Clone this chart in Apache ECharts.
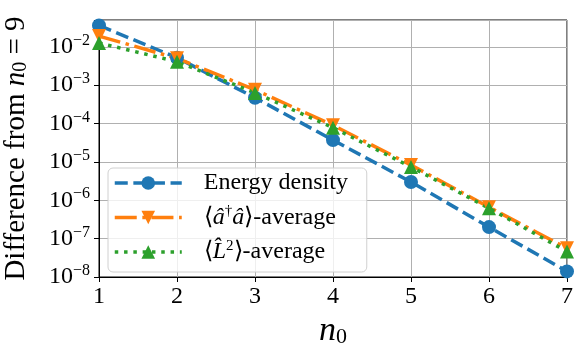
<!DOCTYPE html>
<html>
<head>
<meta charset="utf-8">
<script src="https://cdn.jsdelivr.net/npm/echarts@6/dist/echarts.min.js"></script>
<style>
  html, body { margin: 0; padding: 0; background: #fff; }
  #chart-box { width: 582px; height: 354px; }
</style>
</head>
<body>
<div id="chart-box"></div>
<script>
// values
const n0Values = [1, 2, 3, 4, 5, 6, 7]
const energyDensity = [0.036, 0.0052, 4.7e-4, 3.7e-5, 3.0e-6, 2.0e-7, 1.4e-8]
const adagAverage = [0.019, 0.005, 7.6e-4, 9.0e-5, 8.3e-6, 6.6e-7, 5.6e-8]
const l2Average = [0.0126, 0.0041, 6.3e-4, 7.8e-5, 7.4e-6, 6.2e-7, 4.6e-8]
const seriesNames = ['Energy density', 'adag', 'L2']

const font = 'Liberation Serif'
const pairs = (ys) => n0Values.map((x, i) => [x, ys[i]])

const legendText = {
  'Energy density': 'Energy density',
  'adag': '⟨{i|â}{sup|†}{i|â}⟩-average',
  'L2': '⟨{i|L̂}{sup|2}⟩-average'
}

const lineSeries = (name, ys, color, dash, symbol, rotate) => ({
  name: name,
  type: 'line',
  data: pairs(ys),
  symbol: symbol,
  symbolSize: 14,
  symbolRotate: rotate,
  lineStyle: { color: color, width: 3.5, type: dash, cap: 'butt' },
  itemStyle: { color: color },
  clip: true
})

const options = {
  animation: false,
  grid: {
    left: 99, right: 15, top: 20, bottom: 77,
    outerBoundsMode: 'none',
    containLabel: false,
    show: true, borderColor: '#000', borderWidth: 1
  },
  legend: {
    orient: 'vertical',
    left: 108,
    top: 168,
    data: seriesNames,
    itemWidth: 67,
    itemHeight: 17,
    itemGap: 9,
    padding: [3, 7, 8, 5],
    backgroundColor: 'rgba(255,255,255,0.8)',
    borderColor: '#d0d0d0',
    borderWidth: 1,
    borderRadius: 5,
    lineStyle: { width: 3.5 },
    formatter: (name) => legendText[name],
    textStyle: {
      fontFamily: font,
      fontSize: 24,
      lineHeight: 24,
      width: 156,
      color: '#000',
      padding: [0, 0, 0, 17],
      rich: {
        i: { fontFamily: font, fontSize: 24, fontStyle: 'italic', color: '#000' },
        sup: { fontFamily: font, fontSize: 15, color: '#000', padding: [0, 0, 12, 0] }
      }
    }
  },
  xAxis: {
    type: 'value',
    min: 1,
    max: 7,
    interval: 1,
    name: '{i|n}{sub|0}',
    nameLocation: 'middle',
    nameGap: 26,
    nameTextStyle: {
      rich: {
        i: { fontFamily: font, fontSize: 34, fontStyle: 'italic', color: '#000' },
        sub: { fontFamily: font, fontSize: 22, color: '#000', padding: [12, 0, 0, 0] }
      }
    },
    axisLine: { lineStyle: { color: '#000', width: 1 } },
    axisTick: { show: true, length: 5, lineStyle: { color: '#000' } },
    axisLabel: { fontFamily: font, fontSize: 24, color: '#000', margin: 8 },
    splitLine: { show: true, lineStyle: { color: '#b0b0b0', width: 1 } }
  },
  yAxis: {
    type: 'log',
    logBase: 10,
    min: 1e-8,
    max: 0.05,
    name: 'Difference from {i|n}{sub|0} = 9',
    nameLocation: 'middle',
    nameRotate: 90,
    nameGap: 68,
    nameTextStyle: {
      fontFamily: font,
      fontSize: 29,
      color: '#000',
      rich: {
        i: { fontFamily: font, fontSize: 29, fontStyle: 'italic', color: '#000' },
        sub: { fontFamily: font, fontSize: 20, color: '#000', padding: [10, 0, 0, 0] }
      }
    },
    axisLine: { show: true, lineStyle: { color: '#000', width: 1 } },
    axisTick: { show: true, length: 5, lineStyle: { color: '#000' } },
    axisLabel: {
      margin: 9,
      formatter: (v) => {
        const e = Math.round(Math.log10(v))
        if (Math.abs(Math.log10(v) - e) > 1e-6) return ''
        return '{b|10}{s|−' + Math.abs(e) + '}'
      },
      rich: {
        b: { fontFamily: font, fontSize: 24, color: '#000' },
        s: { fontFamily: font, fontSize: 16, color: '#000', padding: [0, 0, 12, 0] }
      }
    },
    splitLine: { show: true, lineStyle: { color: '#b0b0b0', width: 1 } }
  },
  series: [
    lineSeries(seriesNames[0], energyDensity, '#1f77b4', [13, 5.6], 'circle', 0),
    lineSeries(seriesNames[1], adagAverage, '#ff7f0e', [22, 5.6, 3.5, 5.6], 'triangle', 180),
    lineSeries(seriesNames[2], l2Average, '#2ca02c', [3.5, 5.8], 'triangle', 0)
  ]
}

const myChart = echarts.init(document.getElementById('chart-box'))
myChart.setOption(options)
</script>
</body>
</html>
